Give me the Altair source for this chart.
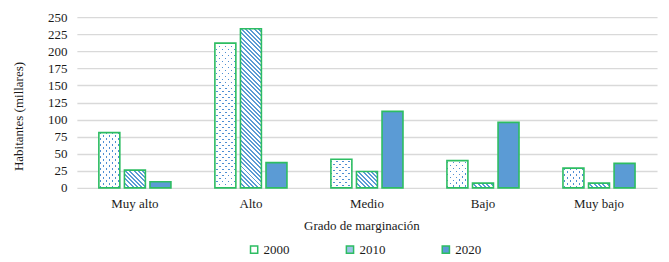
import altair as alt
import pandas as pd

# ---- data ----
categories = ["Muy alto", "Alto", "Medio", "Bajo", "Muy bajo"]
years = ["2000", "2010", "2020"]
v2000 = [81, 212, 42, 40, 29]
v2010 = [26, 233, 24, 7, 7]
v2020 = [9, 37, 112, 96, 36]
y_ticks = [0, 25, 50, 75, 100, 125, 150, 175, 200, 225, 250]

rows = []
for i, c in enumerate(categories):
    rows.append({"cat": c, "year": "2000", "value": v2000[i]})
    rows.append({"cat": c, "year": "2010", "value": v2010[i]})
    rows.append({"cat": c, "year": "2020", "value": v2020[i]})
df = pd.DataFrame(rows)

# ---- styling ----
W, H = 581, 171
YMAX = 250
FONT = "serif"
TXT = "#1a1a1a"
GREEN = "#2dbd62"
BLUE = "#5b9bd5"
DOT = "#4f8fd3"
GRID = "#d9d9d9"
PI_OFF, PO_OFF = 0.18, 0.86

step_off = (W / len(categories)) / (3 - PI_OFF + 2 * PO_OFF)
bar_w = step_off * (1 - PI_OFF)


def make_stops(L, P, bw, c_band, c_bg, phase=0.0):
    segs = []
    k = -1
    while True:
        s = phase + k * P
        if s > L:
            break
        segs.append((s, s + bw))
        k += 1
    stops = []
    pos = 0.0
    for s, e in segs:
        s2, e2 = max(s, 0.0), min(e, L)
        if e2 <= 0 or s2 >= L:
            continue
        if s2 > pos:
            stops.append((pos, c_bg))
            stops.append((s2, c_bg))
        stops.append((s2, c_band))
        stops.append((e2, c_band))
        pos = e2
    if pos < L:
        stops.append((pos, c_bg))
        stops.append((L, c_bg))
    out = []
    last = 0.0
    for p, c in stops:
        o = round(min(max(p / L, last), 1.0), 5)
        last = o
        out.append({"offset": o, "color": c})
    return out


def grad(h, direction, P, bw, c_band, c_bg, phase=0.0):
    w = bar_w
    r = w / h
    b = (1 + r) / (1 + r * r)
    a = b * r
    L = h + w
    stops = make_stops(L, P, bw, c_band, c_bg, phase)
    if direction == "back":  # "\" stripes
        return {"gradient": "linear", "x1": 0, "y1": 1, "x2": a, "y2": 1 - b, "stops": stops}
    return {"gradient": "linear", "x1": 0, "y1": 0, "x2": a, "y2": b, "stops": stops}


x_enc = alt.X(
    "cat:N",
    sort=categories,
    scale=alt.Scale(paddingInner=0, paddingOuter=0),
    axis=alt.Axis(
        title="Grado de marginación",
        labelAngle=0,
        ticks=False,
        domain=False,
        labelPadding=10,
        titleX=285,
        titleY=32,
        titleAnchor="middle",
        labelFont=FONT,
        labelFontSize=13,
        labelColor=TXT,
        titleFont=FONT,
        titleFontSize=13,
        titleFontWeight="normal",
        titleColor=TXT,
    ),
)
y_enc = alt.Y(
    "value:Q",
    scale=alt.Scale(domain=[0, YMAX], nice=False),
    axis=alt.Axis(
        title="Habitantes (millares)",
        values=y_ticks,
        ticks=False,
        domain=False,
        labelPadding=10,
        grid=True,
        gridColor=GRID,
        gridWidth=1.4,
        titleX=-51,
        titleY=99,
        labelFont=FONT,
        labelFontSize=13,
        labelColor=TXT,
        titleFont=FONT,
        titleFontSize=13,
        titleFontWeight="normal",
        titleColor=TXT,
    ),
)
xo_enc = alt.XOffset("year:N", sort=years, scale=alt.Scale(paddingInner=PI_OFF, paddingOuter=PO_OFF))

base = alt.Chart(df).mark_bar().encode(
    x=x_enc,
    y=y_enc,
    xOffset=xo_enc,
    fill=alt.Fill(
        "year:N",
        sort=years,
        scale=alt.Scale(domain=years, range=["#ffffff", "#9ec1e7", BLUE]),
        legend=alt.Legend(
            title=None,
            orient="none",
            direction="horizontal",
            legendX=171,
            legendY=226,
            symbolType="square",
            symbolSize=52,
            symbolStrokeColor=GREEN,
            symbolStrokeWidth=1.5,
            labelFont=FONT,
            labelFontSize=13,
            labelColor=TXT,
            labelOffset=3,
            columnPadding=53,
            padding=0,
        ),
    ),
)

layers = [base]

# dotted bars (2000): solid dot colour, then two white masks leaving dots
dot_base = alt.Chart(df).transform_filter(alt.datum.year == "2000").mark_bar(fill=DOT).encode(
    x=x_enc, y=y_enc, xOffset=xo_enc
)
layers.append(dot_base)
CLEAR = "rgba(255,255,255,0)"
for i, c in enumerate(categories):
    h = v2000[i] / YMAX * H
    for d in ("back", "fwd"):
        g = grad(h, d, 6.0, 1.7, CLEAR, "#ffffff", phase=1.5)
        layers.append(
            alt.Chart(df)
            .transform_filter((alt.datum.cat == c) & (alt.datum.year == "2000"))
            .mark_bar(fill=g)
            .encode(x=x_enc, y=y_enc, xOffset=xo_enc)
        )

# striped bars (2010)
for i, c in enumerate(categories):
    h = v2010[i] / YMAX * H
    g = grad(h, "back", 4.3, 2.0, BLUE, "#ffffff")
    layers.append(
        alt.Chart(df)
        .transform_filter((alt.datum.cat == c) & (alt.datum.year == "2010"))
        .mark_bar(fill=g)
        .encode(x=x_enc, y=y_enc, xOffset=xo_enc)
    )

# green outlines on top
outline = alt.Chart(df).mark_bar(fill="transparent", stroke=GREEN, strokeWidth=1.6).encode(
    x=x_enc, y=y_enc, xOffset=xo_enc
)
layers.append(outline)

chart = (
    alt.layer(*layers)
    .properties(
        width=W,
        height=H,
        padding={"left": 13, "top": 11, "right": 12, "bottom": 5},
    )
    .configure(font=FONT)
    .configure_view(stroke=None)
    .configure_axis(labelFont=FONT, titleFont=FONT)
    .configure_legend(labelFont=FONT)
)

chart.save("out.html", embed_options={"renderer": "svg", "actions": False})
